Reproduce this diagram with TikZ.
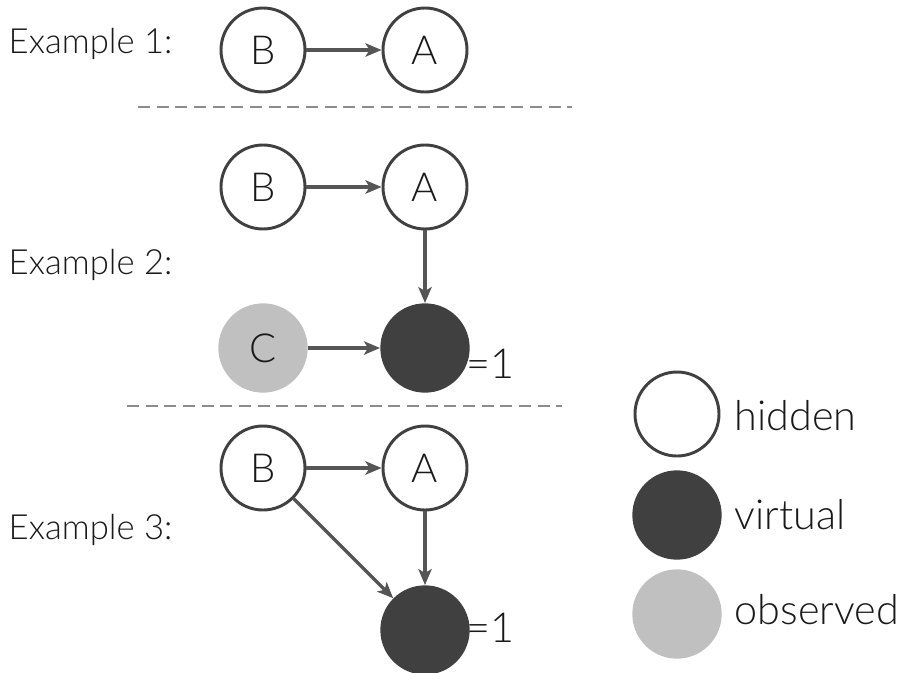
\documentclass[tikz,border=0pt]{standalone}
\usepackage{fontspec}
\setmainfont{Lato}[UprightFont=* Light]
\usetikzlibrary{arrows.meta}
\definecolor{edgec}{HTML}{555555}
\definecolor{ringc}{HTML}{404040}
\definecolor{virtc}{HTML}{404040}
\definecolor{obsc}{HTML}{C0C0C0}
\definecolor{dashc}{HTML}{8C8C8C}
\begin{document}
\begin{tikzpicture}[x=0.75pt,y=-0.75pt,
  hiddenn/.style={circle,draw=ringc,line width=2.2pt,fill=white,minimum size=63pt,inner sep=0pt,font=\fontsize{30}{34}\selectfont,text=black!90},
  virtn/.style={circle,fill=virtc,minimum size=67pt,inner sep=0pt},
  obsn/.style={circle,fill=obsc,minimum size=67pt,inner sep=0pt,font=\fontsize{30}{34}\selectfont,text=black!90},
  conn/.style={draw=edgec,line width=2.4pt,-{Stealth[length=12pt,width=10pt,inset=3pt]}},
  sep/.style={draw=dashc,line width=1.3pt,dash pattern=on 9pt off 5pt},
  exl/.style={anchor=west,font=\fontsize{26}{30}\selectfont,text=black!90},
  eq/.style={anchor=west,font=\fontsize{31}{35}\selectfont,text=black!90},
  legl/.style={anchor=west,font=\fontsize{31}{35}\selectfont,text=black!90}]
\useasboundingbox (0,0) rectangle (904,672);
% Example 1
\node[exl] (e1) at (4,44) {Example 1:};
\node[hiddenn] (b1) at (263,50) {B};
\node[hiddenn] (a1) at (425,50) {A};
\draw[conn] (b1) -- (a1);
\coordinate (d1s) at (138,107);
\coordinate (d1e) at (572,107);
\draw[sep] (d1s) -- (d1e);
% Example 2
\node[exl] (e2) at (4,265) {Example 2:};
\node[hiddenn] (b2) at (263,187) {B};
\node[hiddenn] (a2) at (425,187) {A};
\node[obsn] (c2) at (263,348) {C};
\node[virtn] (v2) at (425,348) {};
\node[eq] (q2) at (462,364) {=1};
\draw[conn] (b2) -- (a2);
\draw[conn] (a2) -- (v2);
\draw[conn] (c2) -- (v2);
\coordinate (d2s) at (127,406);
\coordinate (d2e) at (562,406);
\draw[sep] (d2s) -- (d2e);
% Example 3
\node[exl] (e3) at (4,530) {Example 3:};
\node[hiddenn] (b3) at (263,468) {B};
\node[hiddenn] (a3) at (425,468) {A};
\node[virtn] (v3) at (425,630) {};
\node[eq] (q3) at (462,628) {=1};
\draw[conn] (b3) -- (a3);
\draw[conn] (a3) -- (v3);
\draw[conn] (b3) -- (v3);
% Legend
\node[hiddenn] (lh) at (677,414) {};
\node[virtn] (lv) at (677,515) {};
\node[obsn] (lo) at (677,614) {};
\node[legl] (th) at (730,416) {hidden};
\node[legl] (tv) at (730,515) {virtual};
\node[legl] (to) at (730,610) {observed};
\end{tikzpicture}
\end{document}
